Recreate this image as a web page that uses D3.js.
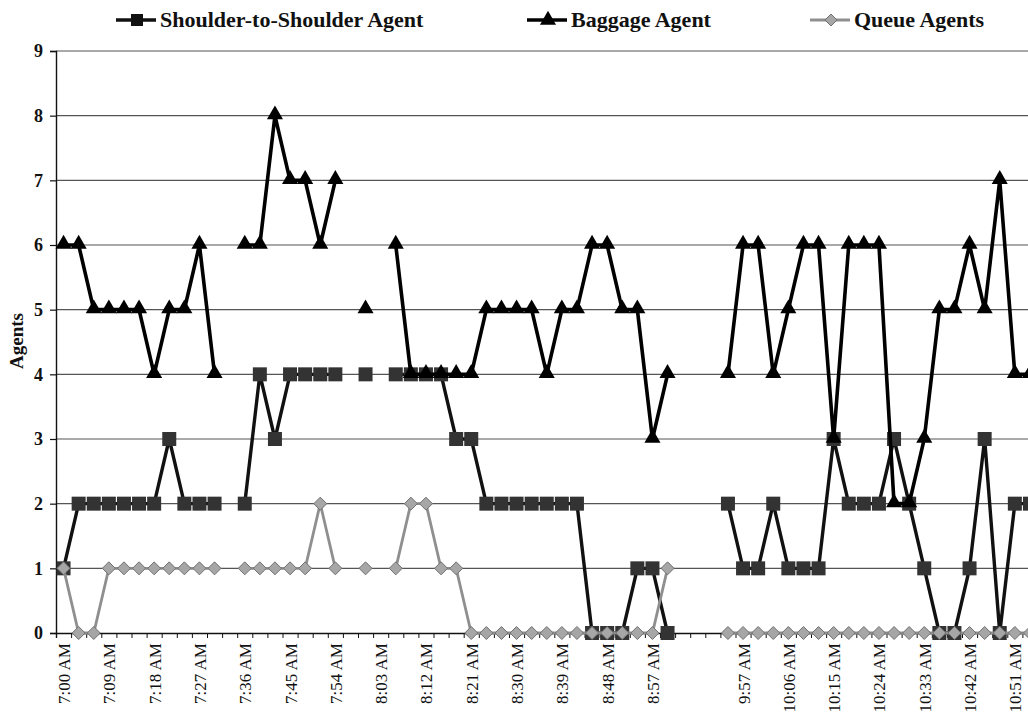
<!DOCTYPE html>
<html>
<head>
<meta charset="utf-8">
<script src="https://cdn.jsdelivr.net/npm/d3@7"></script>
<style>
  html, body { margin: 0; padding: 0; background: #fff; }
  svg { display: block; }
  text { font-family: "Liberation Serif", "Times New Roman", serif; fill: #111; }
</style>
</head>
<body>
<svg id="chart" width="1028" height="715"></svg>
<script>
// Observation times (3-minute intervals; blanks mark the unobserved stretch)
const times = [
  "7:00 AM","7:03 AM","7:06 AM","7:09 AM","7:12 AM","7:15 AM","7:18 AM","7:21 AM","7:24 AM","7:27 AM",
  "7:30 AM","7:33 AM","7:36 AM","7:39 AM","7:42 AM","7:45 AM","7:48 AM","7:51 AM","7:54 AM","7:57 AM",
  "8:00 AM","8:03 AM","8:06 AM","8:09 AM","8:12 AM","8:15 AM","8:18 AM","8:21 AM","8:24 AM","8:27 AM",
  "8:30 AM","8:33 AM","8:36 AM","8:39 AM","8:42 AM","8:45 AM","8:48 AM","8:51 AM","8:54 AM","8:57 AM",
  "9:00 AM","","","","9:54 AM","9:57 AM","10:00 AM","10:03 AM","10:06 AM","10:09 AM",
  "10:12 AM","10:15 AM","10:18 AM","10:21 AM","10:24 AM","10:27 AM","10:30 AM","10:33 AM","10:36 AM","10:39 AM",
  "10:42 AM","10:45 AM","10:48 AM","10:51 AM","10:54 AM"
];

const shoulderAgents = [
  1,2,2,2,2,2,2,3,2,2,
  2,null,2,4,3,4,4,4,4,null,
  4,null,4,4,4,4,3,3,2,2,
  2,2,2,2,2,0,0,0,1,1,
  0,null,null,null,2,1,1,2,1,1,
  1,3,2,2,2,3,2,1,0,0,
  1,3,0,2,2
];

const baggageAgents = [
  6,6,5,5,5,5,4,5,5,6,
  4,null,6,6,8,7,7,6,7,null,
  5,null,6,4,4,4,4,4,5,5,
  5,5,4,5,5,6,6,5,5,3,
  4,null,null,null,4,6,6,4,5,6,
  6,3,6,6,6,2,2,3,5,5,
  6,5,7,4,4
];

const queueAgents = [
  1,0,0,1,1,1,1,1,1,1,
  1,null,1,1,1,1,1,2,1,null,
  1,null,1,2,2,1,1,0,0,0,
  0,0,0,0,0,0,0,0,0,0,
  1,null,null,null,0,0,0,0,0,0,
  0,0,0,0,0,0,0,0,0,0,
  0,0,0,0,0
];

const yTicks = [0,1,2,3,4,5,6,7,8,9];

const seriesNames = ["Shoulder-to-Shoulder Agent", "Baggage Agent", "Queue Agents"];

const svg = d3.select("#chart");

const plotLeft = 56, plotTop = 51, plotBottom = 633;
const step = 15.1;
const n = times.length;

const x = d3.scaleLinear().domain([0, n]).range([plotLeft, plotLeft + n * step]);
const y = d3.scaleLinear().domain([0, 9]).range([plotBottom, plotTop]);
const cx = i => x(i + 0.5);

// horizontal gridlines
svg.append("g")
  .selectAll("line")
  .data(yTicks.filter(v => v > 0))
  .join("line")
  .attr("x1", plotLeft).attr("x2", 1028)
  .attr("y1", d => y(d)).attr("y2", d => y(d))
  .attr("stroke", "#555").attr("stroke-width", 1.2);

// y axis
const yAxis = svg.append("g")
  .attr("transform", `translate(${plotLeft},0)`)
  .call(d3.axisLeft(y).tickValues(yTicks).tickSize(6).tickPadding(7));
yAxis.select(".domain").attr("stroke", "#111").attr("stroke-width", 1.4);
yAxis.selectAll(".tick line").attr("stroke", "#111").attr("stroke-width", 1.2);
yAxis.selectAll("text")
  .style("font-family", "'Liberation Serif', 'Times New Roman', serif")
  .style("font-size", "18px").style("font-weight", "bold").attr("fill", "#111");

// x axis: tick marks on category boundaries
const xTickAxis = svg.append("g")
  .attr("transform", `translate(0,${plotBottom})`)
  .call(d3.axisBottom(x).tickValues(d3.range(0, n + 1)).tickSize(5).tickFormat(""));
xTickAxis.select(".domain").attr("stroke", "#111").attr("stroke-width", 1.4);
xTickAxis.selectAll(".tick line").attr("stroke", "#111").attr("stroke-width", 1);

// x axis labels every third category, rotated
const labelIdx = d3.range(0, n).filter(i => i % 3 === 0 && times[i] !== "");
const xLabelAxis = svg.append("g")
  .attr("transform", `translate(0,${plotBottom})`)
  .call(d3.axisBottom(x)
    .tickValues(labelIdx.map(i => i + 0.5))
    .tickSize(0)
    .tickFormat(v => times[Math.floor(v)]));
xLabelAxis.select(".domain").remove();
xLabelAxis.selectAll("text")
  .attr("transform", "rotate(-90)")
  .attr("x", -10).attr("y", 0).attr("dy", "0.35em")
  .attr("text-anchor", "end")
  .style("font-family", "'Liberation Serif', 'Times New Roman', serif")
  .style("font-size", "17px").attr("fill", "#111");

// y axis title
svg.append("text")
  .attr("transform", `translate(23,${(plotTop + plotBottom) / 2 - 1}) rotate(-90)`)
  .attr("text-anchor", "middle")
  .style("font-size", "19px").style("font-weight", "bold")
  .text("Agents");

const line = d3.line()
  .defined(d => d.v != null)
  .x(d => cx(d.i))
  .y(d => y(d.v));

const toPts = arr => arr.map((v, i) => ({ i, v }));

const triangle = d3.symbol().type(d3.symbolTriangle).size(112);
const square = s => `M${-s/2},${-s/2}h${s}v${s}h${-s}Z`;
const diamond = s => `M0,${-s/2}L${s/2},0L0,${s/2}L${-s/2},0Z`;

function drawSeries(arr, opts) {
  const g = svg.append("g");
  g.append("path")
    .datum(toPts(arr))
    .attr("fill", "none")
    .attr("stroke", opts.stroke)
    .attr("stroke-width", opts.width)
    .attr("stroke-linejoin", "miter")
    .attr("d", line);
  g.selectAll("path.mark")
    .data(toPts(arr).filter(d => d.v != null))
    .join("path")
    .attr("class", "mark")
    .attr("transform", d => `translate(${cx(d.i)},${y(d.v) + (opts.dy || 0)})`)
    .attr("d", opts.shape)
    .attr("fill", opts.fill)
    .attr("stroke", opts.markStroke || "none")
    .attr("stroke-width", 1);
}

drawSeries(shoulderAgents, { stroke: "#111", width: 3.4, shape: square(14), fill: "#333" });
drawSeries(baggageAgents, { stroke: "#000", width: 3.6, shape: triangle(), fill: "#000", dy: -1 });
drawSeries(queueAgents, { stroke: "#8f8f8f", width: 2.8, shape: diamond(13), fill: "#a6a6a6", markStroke: "#707070" });

// legend
const legendItems = [
  { name: seriesNames[0], x0: 115, stroke: "#111", width: 3.5, shape: square(12), fill: "#111" },
  { name: seriesNames[1], x0: 526, stroke: "#000", width: 3.5, shape: triangle(), fill: "#000" },
  { name: seriesNames[2], x0: 809, stroke: "#8f8f8f", width: 3, shape: diamond(12), fill: "#a6a6a6", markStroke: "#707070" }
];
const ly = 20;
const lg = svg.append("g").selectAll("g").data(legendItems).join("g");
lg.append("line")
  .attr("x1", d => d.x0 + 1).attr("x2", d => d.x0 + 41)
  .attr("y1", ly).attr("y2", ly)
  .attr("stroke", d => d.stroke).attr("stroke-width", d => d.width);
lg.append("path")
  .attr("transform", d => `translate(${d.x0 + 22},${ly})`)
  .attr("d", d => d.shape)
  .attr("fill", d => d.fill)
  .attr("stroke", d => d.markStroke || "none");
lg.append("text")
  .attr("x", d => d.x0 + 45).attr("y", 27)
  .style("font-size", "22px").style("font-weight", "bold")
  .text(d => d.name);
</script>
</body>
</html>
